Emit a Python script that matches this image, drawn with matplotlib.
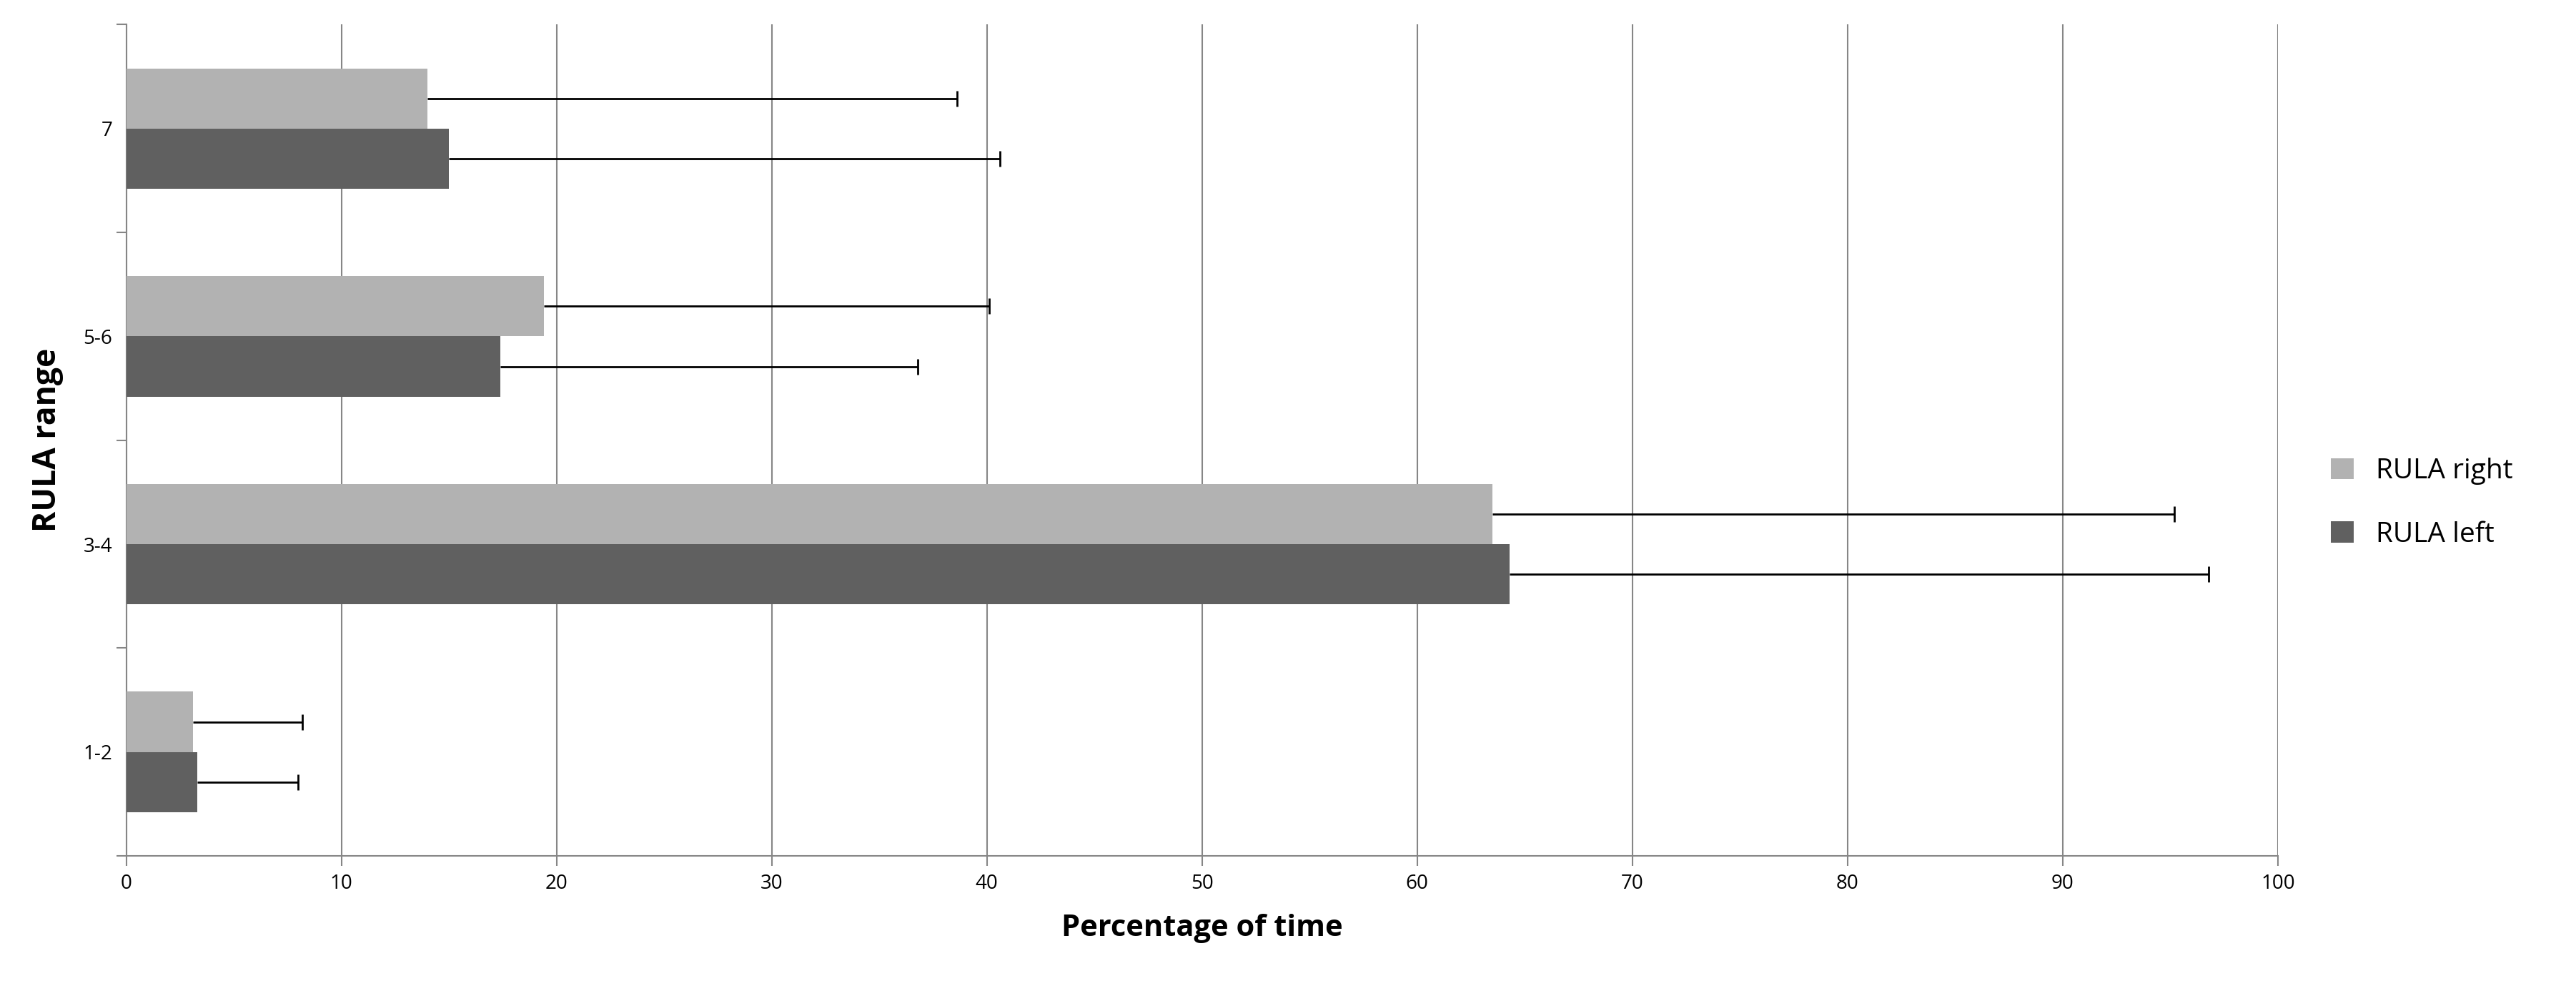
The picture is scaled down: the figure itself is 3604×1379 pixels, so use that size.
import numpy as np
import matplotlib.pyplot as plt

categories = ["1-2", "3-4", "5-6", "7"]
rula_right = [3.1, 63.5, 19.4, 14.0]
rula_right_err = [5.1, 31.7, 20.7, 24.6]
rula_left = [3.3, 64.3, 17.4, 15.0]
rula_left_err = [4.7, 32.5, 19.4, 25.6]

plt.rcParams['font.family'] = ['Open Sans', 'DejaVu Sans']
fig = plt.figure(figsize=(36.05, 13.79), dpi=100)
ax = fig.add_axes([0.049, 0.132, 0.835, 0.843])

y = np.arange(len(categories))
h = 0.29
ax.barh(y - h / 2, rula_left, h, color='#606060', label='RULA left', zorder=3)
ax.barh(y + h / 2, rula_right, h, color='#b2b2b2', label='RULA right', zorder=3)

# one-sided error bars, cap only at the outer end
for vals, errs, yy in [(rula_left, rula_left_err, y - h / 2),
                       (rula_right, rula_right_err, y + h / 2)]:
    ends = np.array(vals) + np.array(errs)
    ax.hlines(yy, vals, ends, color='black', linewidth=2, zorder=4)
    ax.plot(ends, yy, linestyle='none', marker='|', markersize=16,
            markeredgewidth=2, color='black', zorder=4)

ax.set_xlim(0, 100)
ax.set_ylim(-0.5, 3.5)
ax.set_xticks(range(0, 101, 10))
ax.set_yticks(y)
ax.set_yticklabels(categories)
ax.set_yticks(np.arange(-0.5, 3.6, 1), minor=True)
ax.tick_params(axis='y', which='major', length=0, labelsize=20, pad=14)
ax.tick_params(axis='y', which='minor', length=10, width=1.5, color='#868686')
ax.tick_params(axis='x', length=10, width=1.5, color='#868686', labelsize=20, pad=8)
ax.grid(axis='x', color='#868686', linewidth=1.5, zorder=0)
for s in ['top', 'right']:
    ax.spines[s].set_visible(False)
for s in ['left', 'bottom']:
    ax.spines[s].set_color('#868686')
    ax.spines[s].set_linewidth(1.5)

ax.set_xlabel("Percentage of time", fontsize=30, fontweight='bold', labelpad=20)
ax.set_ylabel("RULA range", fontsize=32, fontweight='bold', labelpad=20)

handles, labels = ax.get_legend_handles_labels()
fig.legend(handles[::-1], labels[::-1], loc='center left', bbox_to_anchor=(0.895, 0.49),
           frameon=False, fontsize=28, handlelength=0.8, handleheight=0.8, labelspacing=1.3)

fig.savefig("out.png")
